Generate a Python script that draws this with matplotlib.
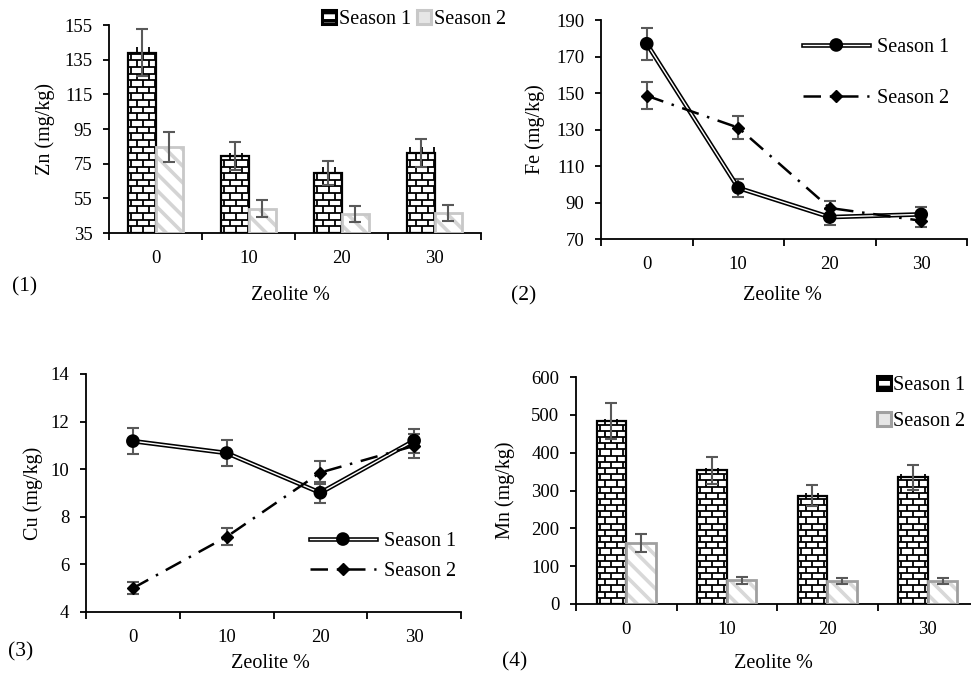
import matplotlib
matplotlib.use("Agg")
import matplotlib.pyplot as plt
import matplotlib.patheffects as pe
from matplotlib.collections import LineCollection
from matplotlib.patches import Patch
import numpy as np

# ---- data ----
zeolite = ["0", "10", "20", "30"]

zn_s1 = [139, 79.5, 69.5, 81]
zn_s1_err = [13.5, 8, 7, 8]
zn_s2 = [84.5, 49, 46, 46.5]
zn_s2_err = [8.5, 5, 4.5, 4.5]

fe_s1 = [177, 98, 82, 83.5]
fe_s1_err = [8.8, 5, 4.4, 3.8]
fe_s2 = [148.5, 131, 87, 80]
fe_s2_err = [7.4, 6.4, 4, 3.5]

cu_s1 = [11.18, 10.68, 9.01, 11.2]
cu_s1_err = [0.55, 0.55, 0.45, 0.5]
cu_s2 = [5.0, 7.16, 9.86, 10.98]
cu_s2_err = [0.25, 0.35, 0.48, 0.5]

mn_s1 = [484, 353, 286, 335]
mn_s1_err = [47, 36, 28, 33]
mn_s2 = [162, 63, 61, 60]
mn_s2_err = [24, 9, 8, 8]

# ---- style ----
W, H, DPI = 971, 673, 100
FONT = "Liberation Serif"
TICK_FS = 13.5
LABEL_FS = 14.5
ERR_C = "#595959"

plt.rcParams["font.family"] = [FONT, "DejaVu Serif"]
plt.rcParams["hatch.linewidth"] = 2.6

fig = plt.figure(figsize=(W / DPI, H / DPI), dpi=DPI)
fig.patch.set_facecolor("white")


def px_axes(left, top, right, bottom):
    return fig.add_axes([left / W, 1 - bottom / H, (right - left) / W, (bottom - top) / H])


def fig_text(x, y, s, **kw):
    fig.text(x / W, 1 - y / H, s, **kw)


def style_axes(ax, ylim, yticks):
    ax.set_xlim(-0.5, 3.5)
    ax.set_ylim(*ylim)
    ax.set_yticks(yticks)
    for side in ("top", "right"):
        ax.spines[side].set_visible(False)
    for side in ("left", "bottom"):
        ax.spines[side].set_linewidth(1.3)
    ax.set_xticks([-0.5, 0.5, 1.5, 2.5, 3.5])
    ax.set_xticklabels([])
    ax.set_xticks(np.arange(4), minor=True)
    ax.set_xticklabels(zeolite, minor=True, fontsize=TICK_FS)
    ax.tick_params(axis="x", which="major", length=5, width=1.3, direction="out")
    ax.tick_params(axis="x", which="minor", length=0, pad=12)
    ax.tick_params(axis="y", length=4, width=1.3, direction="out", pad=8, labelsize=TICK_FS)


def set_ylabel(ax, text, x_px):
    # x_px: horizontal centre of the rotated label, in figure pixels
    ax.set_ylabel(text, fontsize=LABEL_FS, va="center")
    pos = ax.get_position()
    ax.yaxis.set_label_coords((x_px / W - pos.x0) / pos.width, 0.5)


def draw_bricks(ax, bars):
    pos = ax.get_position()
    x0l, x1l = ax.get_xlim()
    y0l, y1l = ax.get_ylim()
    sx = pos.width * W / (x1l - x0l)
    sy = pos.height * H / (y1l - y0l)
    rh = 7.3 / sy
    bw = 13.0 / sx
    for bar in bars:
        x0 = bar.get_x()
        w = bar.get_width()
        y = bar.get_y()
        top = y + bar.get_height()
        segs = []
        k = 0
        while y < top:
            segs.append([(x0, y), (x0 + w, y)])
            xs = x0 + 0.25 * bw + (k % 2) * bw / 2
            while xs < x0 + w:
                segs.append([(xs, y), (xs, y + rh)])
                xs += bw
            y += rh
            k += 1
        lc = LineCollection(segs, colors="black", linewidths=1.3, zorder=2.5)
        lc.set_clip_path(bar)
        ax.add_collection(lc)


def bar_panel(ax, s1, e1, s2, e2, ylim, yticks, s2_edge, s2_hatch):
    x = np.arange(4)
    w = 0.295
    base = ylim[0]
    b1 = ax.bar(x - w / 2, np.array(s1) - base, w, bottom=base, color="white",
                edgecolor="black", linewidth=1.6, zorder=2, label="Season 1")
    draw_bricks(ax, b1)
    ax.bar(x + w / 2, np.array(s2) - base, w, bottom=base, color="white",
           edgecolor=s2_hatch, linewidth=0, hatch="\\\\", zorder=2)
    ax.bar(x + w / 2, np.array(s2) - base, w, bottom=base, color="none",
           edgecolor=s2_edge, linewidth=2.0, zorder=2.6)
    for xx, v, e in ((x - w / 2, s1, e1), (x + w / 2, s2, e2)):
        ax.errorbar(xx, v, yerr=e, fmt="none", ecolor=ERR_C, elinewidth=1.5,
                    capsize=4, capthick=1.5, zorder=3)
    style_axes(ax, ylim, yticks)
    h1 = Patch(facecolor="white", edgecolor="black", linewidth=2.2, hatch="--")
    h2 = Patch(facecolor="#e6e6e6", edgecolor=s2_edge, linewidth=2.2)
    return h1, h2


def line_panel(ax, s1, e1, s2, e2, ylim, yticks):
    x = np.arange(4)
    ax.errorbar(x, s1, yerr=e1, fmt="none", ecolor=ERR_C, elinewidth=1.5,
                capsize=4, capthick=1.5, zorder=2)
    ax.errorbar(x, s2, yerr=e2, fmt="none", ecolor=ERR_C, elinewidth=1.5,
                capsize=4, capthick=1.5, zorder=2)
    ax.plot(x, s1, color="white", lw=1.0, marker="o", ms=6.5, mfc="black", mec="black",
            zorder=3, label="Season 1",
            path_effects=[pe.Stroke(linewidth=3.3, foreground="black"), pe.Normal()])
    ax.plot(x, s2, color="black", lw=1.8, dashes=(7, 3.5, 1, 3.5), marker="D", ms=6,
            mfc="black", mec="black", zorder=3, label="Season 2")
    style_axes(ax, ylim, yticks)


# (1) Zn
ax1 = px_axes(109, 25, 481, 233)
h1, h2 = bar_panel(ax1, zn_s1, zn_s1_err, zn_s2, zn_s2_err, (35, 155),
                   np.arange(35, 156, 20), "#c8c8c8", "#d4d4d4")
set_ylabel(ax1, "Zn (mg/kg)", 45)
fig.legend([h1, h2], ["Season 1", "Season 2"], loc="upper left",
           bbox_to_anchor=(314 / W, 1 - 2 / H), ncol=2, frameon=False,
           fontsize=LABEL_FS, handlelength=0.7, handleheight=0.7,
           handletextpad=0.15, columnspacing=0.3, borderaxespad=0)

# (2) Fe
ax2 = px_axes(601, 20, 967, 239)
line_panel(ax2, fe_s1, fe_s1_err, fe_s2, fe_s2_err, (70, 190), np.arange(70, 191, 20))
set_ylabel(ax2, "Fe (mg/kg)", 535)
ax2.legend(loc="upper left", bbox_to_anchor=(0.53, 0.955), frameon=False,
           fontsize=LABEL_FS, handlelength=3.3, handletextpad=0.35, labelspacing=1.6,
           borderaxespad=0)

# (3) Cu
ax3 = px_axes(86, 374, 461, 612)
line_panel(ax3, cu_s1, cu_s1_err, cu_s2, cu_s2_err, (4, 14), np.arange(4, 15, 2))
set_ylabel(ax3, "Cu (mg/kg)", 33)
ax3.legend(loc="upper left", bbox_to_anchor=(0.575, 0.37), frameon=False,
           fontsize=LABEL_FS, handlelength=3.3, handletextpad=0.4, labelspacing=0.55,
           borderaxespad=0)

# (4) Mn
ax4 = px_axes(576, 377, 978, 604)
h1, h2 = bar_panel(ax4, mn_s1, mn_s1_err, mn_s2, mn_s2_err, (0, 600),
                   np.arange(0, 601, 100), "#a0a0a0", "#d8d8d8")
set_ylabel(ax4, "Mn (mg/kg)", 505)
fig.legend([h1, h2], ["Season 1", "Season 2"], loc="upper left",
           bbox_to_anchor=(869 / W, 1 - 368 / H), frameon=False,
           fontsize=LABEL_FS, handlelength=0.7, handleheight=0.7,
           handletextpad=0.1, labelspacing=0.85, borderaxespad=0)

# x labels and panel numbers
for x, y in ((290, 296), (782, 296), (270, 663), (773, 663)):
    fig_text(x, y, "Zeolite %", ha="center", va="center", fontsize=LABEL_FS)
for x, y, s in ((25, 287, "(1)"), (524, 296, "(2)"), (21, 652, "(3)"), (515, 662, "(4)")):
    fig_text(x, y, s, ha="center", va="center", fontsize=15.5)

fig.savefig("out.png", dpi=DPI, facecolor="white")
